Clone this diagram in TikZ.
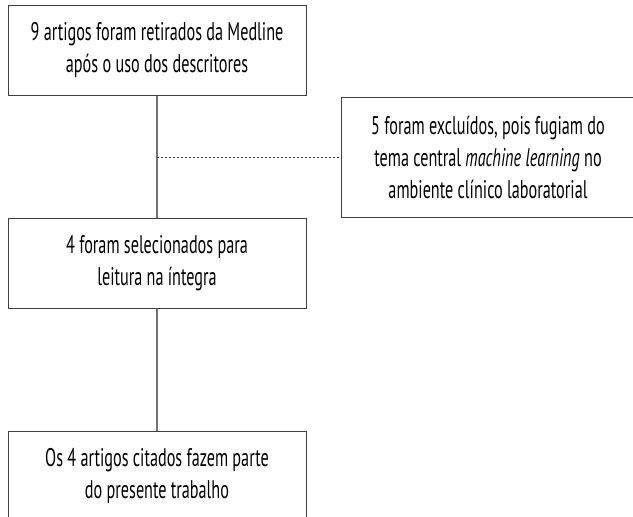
\documentclass[tikz,border=0pt]{standalone}
\usepackage{fontspec}
\setmainfont{PT Sans}[FakeStretch=0.635]
\begin{document}
\begin{tikzpicture}[x=1pt,y=-1pt,
  box/.style={draw=black!75, line width=1pt, rectangle, align=center, inner sep=0pt,
    font=\fontsize{25.5}{32}\selectfont, text=black},
  link/.style={draw=black!55, line width=1.3pt},
  dashlink/.style={draw=black!80, line width=0.9pt, dash pattern=on 2.2pt off 1.8pt}]
\useasboundingbox (0,0) rectangle (633,517);
\clip (0,0) rectangle (633,517);
\node[box, minimum width=298pt, minimum height=90pt] (a) at (157,50)
  {9 artigos foram retirados da Medline\\após o uso dos descritores};
\node[box, minimum width=294pt, minimum height=120pt] (r) at (488,157)
  {5 foram excluídos, pois fugiam do\\tema central \textit{machine learning} no\\ambiente clínico laboratorial};
\node[box, minimum width=298pt, minimum height=90pt] (b) at (157,263)
  {4 foram selecionados para\\leitura na íntegra};
\node[box, minimum width=298pt, minimum height=90pt] (c) at (157,476)
  {Os 4 artigos citados fazem parte\\do presente trabalho};
\coordinate (m) at (157,157);
\draw[link] (a.south) -- (b.north);
\draw[link] (b.south) -- (c.north);
\draw[dashlink] (m) -- (r.west);
\end{tikzpicture}
\end{document}
